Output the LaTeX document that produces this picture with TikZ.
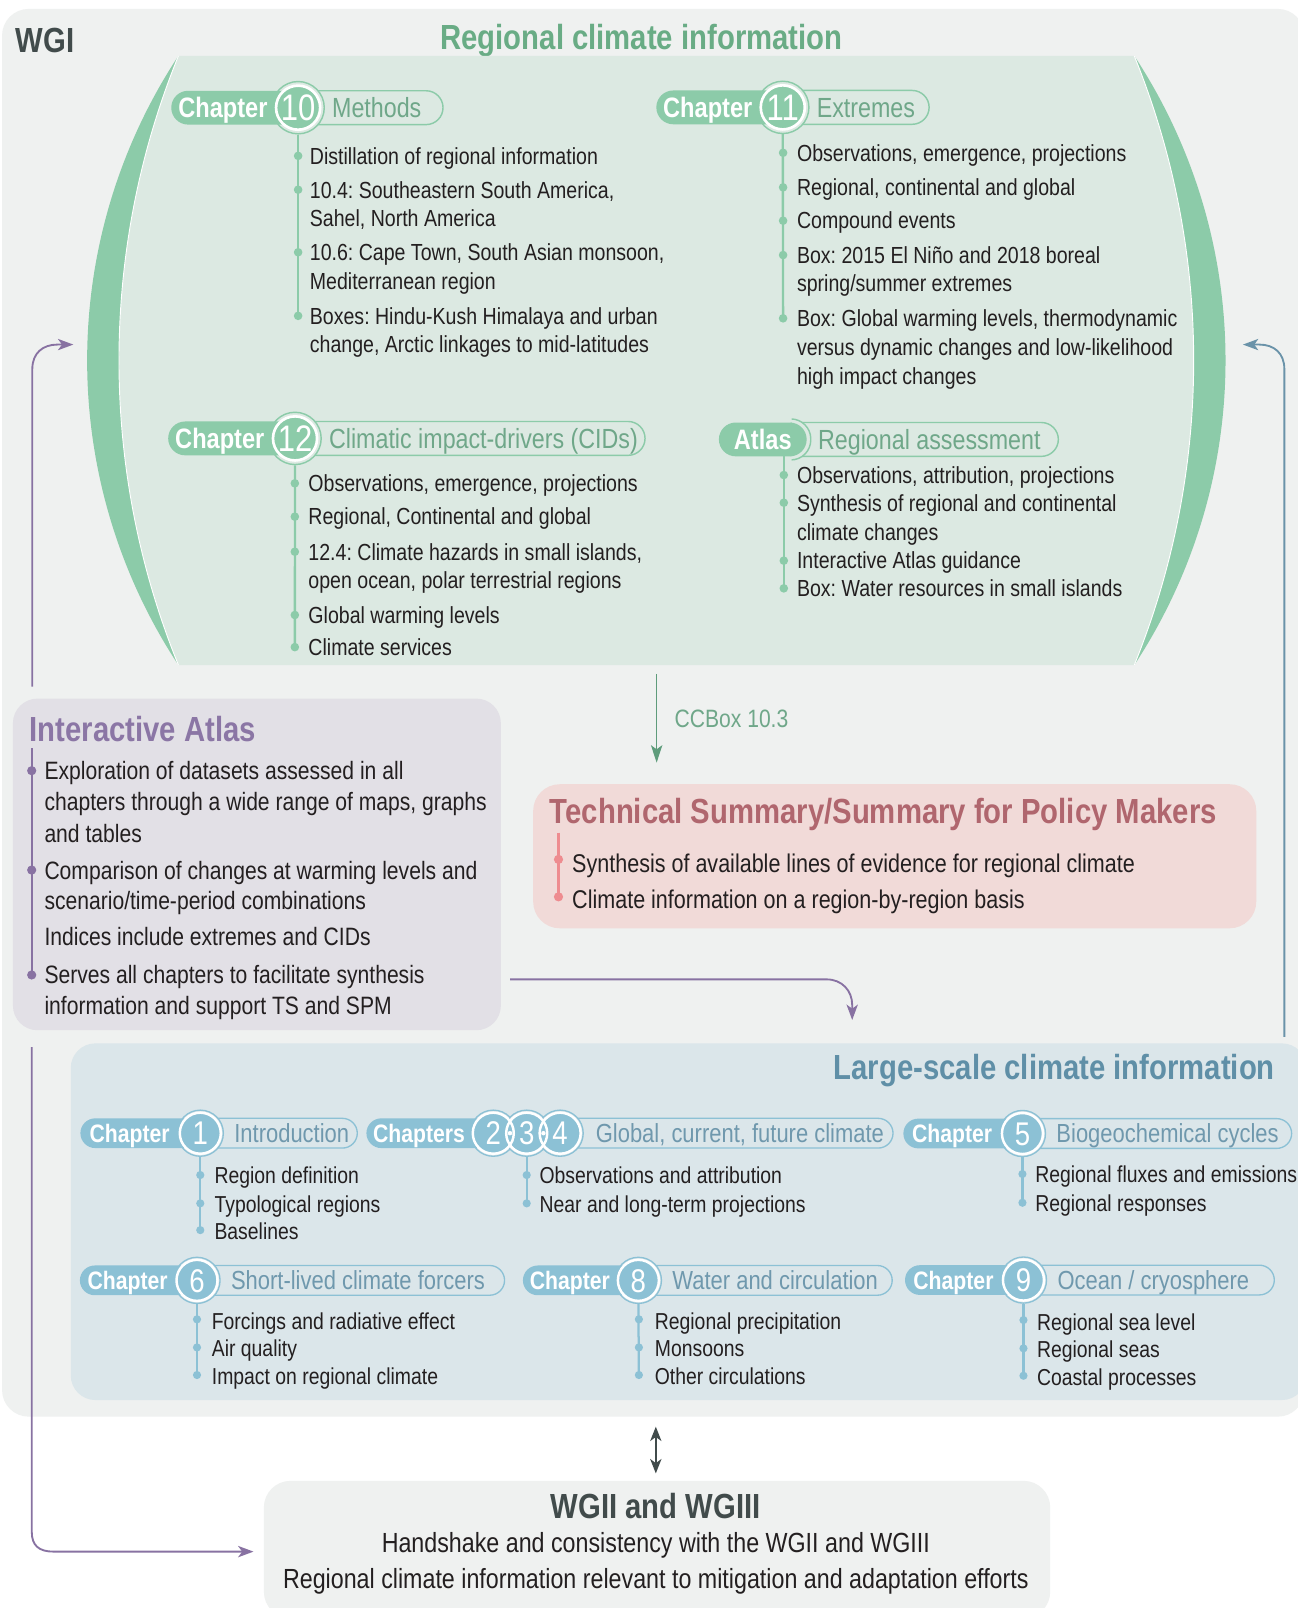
\documentclass[tikz,border=0pt]{standalone}
\usepackage{fontspec}
\setmainfont[FakeStretch=0.84]{Liberation Sans}
\usetikzlibrary{arrows.meta}
\frenchspacing
\definecolor{bgGray}{HTML}{EFF1F0}
\definecolor{cLens}{HTML}{DCE9E2}
\definecolor{cGreen}{HTML}{8CCBA9}
\definecolor{cGreenTitle}{HTML}{69AC85}
\definecolor{cGreenLab}{HTML}{6FA789}
\definecolor{cGreenArr}{HTML}{5E9C7B}
\definecolor{cAtlasBox}{HTML}{E2E0E6}
\definecolor{cPurple}{HTML}{8872A2}
\definecolor{cPurpleTitle}{HTML}{8B76A5}
\definecolor{cTSBox}{HTML}{F1DAD8}
\definecolor{cTSTitle}{HTML}{B0666E}
\definecolor{cPink}{HTML}{EE8C90}
\definecolor{cBluePanel}{HTML}{DBE6EA}
\definecolor{cBlue}{HTML}{8CC1D5}
\definecolor{cBlueTitle}{HTML}{5F8FA7}
\definecolor{cBlueLab}{HTML}{6F98AD}
\definecolor{cBlueArr}{HTML}{6A93A9}
\definecolor{cDark}{HTML}{414B4B}
\definecolor{cTxt}{HTML}{231F20}
\tikzset{
  itemG/.style={anchor=base west, yshift=-8.1pt, inner sep=0pt, text=cTxt, font=\fontsize{22.7}{26}\selectfont},
  itemA/.style={anchor=base west, yshift=-8.8pt, inner sep=0pt, text=cTxt, font=\fontsize{24.5}{28}\selectfont},
  itemT/.style={anchor=base west, yshift=-9pt, inner sep=0pt, text=cTxt, font=\fontsize{25}{28}\selectfont},
  itemB/.style={anchor=base west, yshift=-8.05pt, inner sep=0pt, text=cTxt, font=\fontsize{22.5}{26}\selectfont},
  itemW/.style={anchor=base, yshift=-9.7pt, inner sep=0pt, text=cTxt, font=\fontsize{27}{30}\selectfont},
  titleS/.style={inner sep=0pt, font=\bfseries\fontsize{34}{38}\selectfont},
  dotG/.style={circle, fill=cGreen, inner sep=0pt, minimum size=8.4pt},
  dotB/.style={circle, fill=cBlue, inner sep=0pt, minimum size=8pt},
  dotP/.style={circle, fill=cPurple, inner sep=0pt, minimum size=9pt},
  dotR/.style={circle, fill=cPink, inner sep=0pt, minimum size=9pt},
  listG/.style={draw=cGreen, line width=2.3pt},
  listB/.style={draw=cBlue, line width=2.2pt},
  listP/.style={draw=cPurple, line width=2.2pt},
  listR/.style={draw=cPink, line width=2.2pt},
  outG/.style={draw=cGreen, line width=1.4pt, rounded corners=16.5pt},
  fillG/.style={fill=cGreen, rounded corners=16.5pt},
  haloG/.style={circle, minimum size=51pt, inner sep=0pt, fill=cLens, draw=cGreen, line width=1.4pt},
  circG/.style={circle, minimum size=43pt, inner sep=0pt, fill=cGreen, draw=white, line width=2.6pt},
  wordG/.style={anchor=base, yshift=-9.8pt, inner sep=0pt, text=white, font=\bfseries\fontsize{27.4}{30}\selectfont},
  numG/.style={anchor=base, yshift=-12.9pt, inner sep=0pt, text=white, font=\fontsize{36}{40}\selectfont},
  labG/.style={anchor=base west, yshift=-9.7pt, inner sep=0pt, text=cGreenLab, font=\fontsize{27}{30}\selectfont},
  outB/.style={draw=cBlue, line width=1.3pt, rounded corners=14.5pt},
  fillB/.style={fill=cBlue, rounded corners=14.5pt},
  haloB/.style={circle, minimum size=45pt, inner sep=0pt, fill=cBluePanel, draw=cBlue, line width=1.3pt},
  circB/.style={circle, minimum size=40pt, inner sep=0pt, fill=cBlue, draw=white, line width=2.4pt},
  ringB/.style={circle, minimum size=40pt, inner sep=0pt, draw=white, line width=2.4pt},
  wordB/.style={anchor=base, yshift=-8.8pt, inner sep=0pt, text=white, font=\bfseries\fontsize{24.6}{28}\selectfont},
  numB/.style={anchor=base, yshift=-11.5pt, inner sep=0pt, text=white, font=\fontsize{32}{36}\selectfont},
  labB/.style={anchor=base west, yshift=-9.1pt, inner sep=0pt, text=cBlueLab, font=\fontsize{25.5}{28}\selectfont},
  arrP/.style={draw=cPurple, line width=1.8pt, -{Stealth[length=15pt,width=11pt,inset=4pt]}},
  arrBl/.style={draw=cBlueArr, line width=1.8pt, -{Stealth[length=15pt,width=11pt,inset=4pt]}},
  arrG/.style={draw=cGreenArr, line width=1.6pt, -{Stealth[length=17pt,width=11pt,inset=4pt]}},
  arrD/.style={draw=cDark, line width=1.6pt, {Stealth[length=14pt,width=11pt,inset=4pt]}-{Stealth[length=14pt,width=11pt,inset=4pt]}},
}
\newcommand\chapG[7]{%
  \draw[outG] ({#4-10},{#3-16.5}) rectangle (#5,{#3+16.5});
  \node[haloG] (h#1) at (#4,#3) {};
  \fill[fillG] (#2,{#3-16.5}) rectangle ({#4+10},{#3+16.5});
  \node[circG] (c#1) at (#4,#3) {};
  \node[wordG] (w#1) at ({(#2+#4-23)/2},#3) {Chapter};
  \node[numG] (n#1) at (#4,#3) {#6};
  \node[labG] (l#1) at ({#4+33},#3) {#7};}
\newcommand\chapB[7]{%
  \draw[outB] ({#4-10},{#3-14.5}) rectangle (#5,{#3+14.5});
  \node[haloB] (h#1) at (#4,#3) {};
  \fill[fillB] (#2,{#3-14.5}) rectangle ({#4+8},{#3+14.5});
  \node[circB] (c#1) at (#4,#3) {};
  \node[wordB] (w#1) at ({(#2+#4-21)/2},#3) {Chapter};
  \node[numB] (n#1) at (#4,#3) {#6};
  \node[labB] (l#1) at ({#4+33},#3) {#7};}
\begin{document}
\begin{tikzpicture}[x=1pt,y=-1pt]
\useasboundingbox (0,0) rectangle (1264.8,1568);
\fill[white] (0,0) rectangle (1264.8,1568);
% WGI panel
\fill[bgGray, rounded corners=26pt] (2,8.7) rectangle (1272,1381.4);
\node[titleS, anchor=base west, text=cDark] (wgi) at (15,51.5) {WGI};
\node[titleS, anchor=base, text=cGreenTitle] (regtitle) at (625.5,48.5) {Regional climate information};
% lens
\fill[cLens] (174,54.4) -- (1106,54.4) .. controls (1183.3,244.4) and (1183.3,458.6) .. (1106,648.6) -- (174,648.6) .. controls (96.7,458.6) and (96.7,244.4) .. (174,54.4) -- cycle;
\fill[cGreen] (174,54.4) .. controls (55.3,234.8) and (55.3,468.2) .. (174,648.6) .. controls (96.7,458.6) and (96.7,244.4) .. (174,54.4) -- cycle;
\fill[cGreen] (1106,54.4) .. controls (1224.7,234.8) and (1224.7,468.2) .. (1106,648.6) .. controls (1183.3,458.6) and (1183.3,244.4) .. (1106,54.4) -- cycle;
\draw[white, line width=0.9pt] (174,54.4) .. controls (96.7,244.4) and (96.7,458.6) .. (174,648.6);
\draw[white, line width=0.9pt] (1106,54.4) .. controls (1183.3,244.4) and (1183.3,458.6) .. (1106,648.6);
% Chapter 10
\chapG{10}{167}{105}{290.7}{432}{10}{Methods}
\node[dotG] (d10a) at (290.7,152) {};
\node[dotG] (d10b) at (290.7,185) {};
\node[dotG] (d10c) at (290.7,246) {};
\node[dotG] (d10d) at (290.7,308) {};
\draw[listG] (h10.south) -- (d10d.center);
\node[itemG] (t10a) at (302,152) {Distillation of regional information};
\node[itemG] (t10b) at (302,185) {10.4: Southeastern South America,};
\node[itemG] (t10c) at (302,213) {Sahel, North America};
\node[itemG] (t10d) at (302,246) {10.6: Cape Town, South Asian monsoon,};
\node[itemG] (t10e) at (302,274) {Mediterranean region};
\node[itemG] (t10f) at (302,308) {Boxes: Hindu-Kush Himalaya and urban};
\node[itemG] (t10g) at (302,336) {change, Arctic linkages to mid-latitudes};
% Chapter 11
\chapG{11}{640}{104.7}{763.3}{906}{11}{Extremes}
\node[dotG] (d11a) at (763.6,149) {};
\node[dotG] (d11b) at (763.6,182.7) {};
\node[dotG] (d11c) at (763.6,215.2) {};
\node[dotG] (d11d) at (763.6,248.7) {};
\node[dotG] (d11e) at (763.6,310.4) {};
\draw[listG] (h11.south) -- (d11e.center);
\node[itemG] (t11a) at (777,149) {Observations, emergence, projections};
\node[itemG] (t11b) at (777,182.7) {Regional, continental and global};
\node[itemG] (t11c) at (777,215.2) {Compound events};
\node[itemG] (t11d) at (777,248.7) {Box: 2015 El Niño and 2018 boreal};
\node[itemG] (t11e) at (777,276.3) {spring/summer extremes};
\node[itemG] (t11f) at (777,310.4) {Box: Global warming levels, thermodynamic};
\node[itemG] (t11g) at (777,338.7) {versus dynamic changes and low-likelihood};
\node[itemG] (t11h) at (777,366.7) {high impact changes};
% Chapter 12
\chapG{12}{164}{427.5}{287.7}{629}{12}{Climatic impact-drivers (CIDs)}
\node[dotG] (d12a) at (287.5,471.3) {};
\node[dotG] (d12b) at (287.5,503.8) {};
\node[dotG] (d12c) at (287.5,538) {};
\node[dotG] (d12d) at (287.5,599.7) {};
\node[dotG] (d12e) at (287.5,631) {};
\draw[listG] (h12.south) -- (d12e.center);
\node[itemG] (t12a) at (300.6,471.3) {Observations, emergence, projections};
\node[itemG] (t12b) at (300.6,503.8) {Regional, Continental and global};
\node[itemG] (t12c) at (300.6,538) {12.4: Climate hazards in small islands,};
\node[itemG] (t12d) at (300.6,565.6) {open ocean, polar terrestrial regions};
\node[itemG] (t12e) at (300.6,599.7) {Global warming levels};
\node[itemG] (t12f) at (300.6,631) {Climate services};
% Atlas
\draw[outG] (760,412) rectangle (1032,445);
\begin{scope}
\clip (772,400) rectangle (800,460);
\draw[fill=cLens, draw=cGreen, line width=1.4pt, rounded corners=19.5pt] (697,408.5) rectangle (790.6,448.5);
\end{scope}
\fill[fillG] (701,412) rectangle (786.6,445);
\node[wordG] (watl) at (743.8,428.5) {Atlas};
\node[labG] (latl) at (797.6,428.5) {Regional assessment};
\coordinate (atlbot) at (764.3,445);
\node[dotG] (dAa) at (764.3,463.2) {};
\node[dotG] (dAb) at (764.3,490.2) {};
\node[dotG] (dAc) at (764.3,546.7) {};
\node[dotG] (dAd) at (764.3,573.7) {};
\draw[listG] (atlbot) -- (dAd.center);
\node[itemG] (tAa) at (777,463.2) {Observations, attribution, projections};
\node[itemG] (tAb) at (777,490.2) {Synthesis of regional and continental};
\node[itemG] (tAc) at (777,518.5) {climate changes};
\node[itemG] (tAd) at (777,546.7) {Interactive Atlas guidance};
\node[itemG] (tAe) at (777,573.7) {Box: Water resources in small islands};
% CCBox arrow
\coordinate (ccA) at (640.3,657);
\coordinate (ccB) at (640.3,743.7);
\draw[arrG] (ccA) -- (ccB);
\node[anchor=base west, yshift=-8.8pt, inner sep=0pt, text=cGreenLab, font=\fontsize{24.5}{28}\selectfont] (cclab) at (657.6,701) {CCBox 10.3};
% Interactive Atlas box
\node[fill=cAtlasBox, rounded corners=24pt, minimum width=475.8pt, minimum height=323.4pt, anchor=north west, inner sep=0pt] (iabox) at (12.4,681) {};
\node[titleS, anchor=base west, text=cPurpleTitle] (iatitle) at (28.6,723.5) {Interactive Atlas};
\coordinate (iatop) at (30.9,729.7);
\node[dotP] (dia) at (30.9,751.5) {};
\node[dotP] (dib) at (30.9,848.4) {};
\node[dotP] (dic) at (30.9,950.7) {};
\draw[listP] (iatop) -- (dic.center);
\node[itemA] (ia1) at (43.2,751) {Exploration of datasets assessed in all};
\node[itemA] (ia2) at (43.2,781.7) {chapters through a wide range of maps, graphs};
\node[itemA] (ia3) at (43.2,812.6) {and tables};
\node[itemA] (ia4) at (43.2,848.4) {Comparison of changes at warming levels and};
\node[itemA] (ia5) at (43.2,878.3) {scenario/time-period combinations};
\node[itemA] (ia6) at (43.2,913.4) {Indices include extremes and CIDs};
\node[itemA] (ia7) at (43.2,950.7) {Serves all chapters to facilitate synthesis};
\node[itemA] (ia8) at (43.2,980) {information and support TS and SPM};
% TS/SPM box
\node[fill=cTSBox, rounded corners=26pt, minimum width=705.1pt, minimum height=140.5pt, anchor=north west, inner sep=0pt] (tsbox) at (519.7,764.5) {};
\node[titleS, anchor=base west, text=cTSTitle] (tstitle) at (536,802.7) {Technical Summary/Summary for Policy Makers};
\coordinate (tstop) at (544.6,812);
\node[dotR] (dta) at (544.6,838) {};
\node[dotR] (dtb) at (544.6,874.5) {};
\draw[listR] (tstop) -- (dtb.center);
\node[itemT] (ts1) at (557.8,841.6) {Synthesis of available lines of evidence for regional climate};
\node[itemT] (ts2) at (557.8,876.7) {Climate information on a region-by-region basis};
% Large-scale panel
\fill[cBluePanel, rounded corners=24pt] (69,1017.4) rectangle (1274,1365.2);
\node[titleS, anchor=base east, text=cBlueTitle] (lstitle) at (1243.3,1053) {Large-scale climate information};
% Chapter 1
\chapB{1}{78.4}{1105}{195.3}{348.4}{1}{Introduction}
\node[dotB] (d1a) at (195.3,1145.8) {};
\node[dotB] (d1b) at (195.3,1173.4) {};
\node[dotB] (d1c) at (195.3,1199.5) {};
\draw[listB] (h1.south) -- (d1c.center);
\node[itemB] (t1a) at (209,1146) {Region definition};
\node[itemB] (t1b) at (209,1174) {Typological regions};
\node[itemB] (t1c) at (209,1201) {Baselines};
% Chapters 2-3-4
\draw[outB] (536,1090.5) rectangle (870.8,1119.5);
\node[haloB] (h2) at (481,1105) {};
\node[haloB] (h3) at (513.6,1105) {};
\node[haloB] (h4) at (546.2,1105) {};
\fill[fillB] (357.3,1090.5) rectangle (489,1119.5);
\fill[cBlue] (481,1105) circle[radius=20pt];
\fill[cBlue] (513.6,1105) circle[radius=20pt];
\fill[cBlue] (546.2,1105) circle[radius=20pt];
\node[ringB] (c2) at (481,1105) {};
\node[ringB] (c3) at (513.6,1105) {};
\node[ringB] (c4) at (546.2,1105) {};
\node[wordB] (w234) at (408.6,1105) {Chapters};
\node[numB] (n2) at (481,1105) {2};
\node[numB] (n3) at (513.6,1105) {3};
\node[numB] (n4) at (546.2,1105) {4};
\fill[white] (497.3,1105) circle[radius=2.2pt];
\fill[white] (529.9,1105) circle[radius=2.2pt];
\node[labB] (l234) at (580.8,1105) {Global, current, future climate};
\node[dotB] (d3a) at (513.6,1145.8) {};
\node[dotB] (d3b) at (513.6,1173.4) {};
\draw[listB] (h3.south) -- (d3b.center);
\node[itemB] (t3a) at (526,1146) {Observations and attribution};
\node[itemB] (t3b) at (526,1174) {Near and long-term projections};
% Chapter 5
\chapB{5}{880.9}{1105.3}{997}{1259.5}{5}{Biogeochemical cycles}
\node[dotB] (d5a) at (997,1144.8) {};
\node[dotB] (d5b) at (997,1172.8) {};
\draw[listB] (h5.south) -- (d5b.center);
\node[itemB] (t5a) at (1009.3,1145) {Regional fluxes and emissions};
\node[itemB] (t5b) at (1009.3,1173) {Regional responses};
% Chapter 6
\chapB{6}{77.9}{1248.5}{192.1}{492}{6}{Short-lived climate forcers}
\node[dotB] (d6a) at (192.1,1286.5) {};
\node[dotB] (d6b) at (192.1,1313.9) {};
\node[dotB] (d6c) at (192.1,1340.8) {};
\draw[listB] (h6.south) -- (d6c.center);
\node[itemB] (t6a) at (206.4,1288) {Forcings and radiative effect};
\node[itemB] (t6b) at (206.4,1315) {Air quality};
\node[itemB] (t6c) at (206.4,1342) {Impact on regional climate};
% Chapter 8
\chapB{8}{509.9}{1248.5}{622.5}{870}{8}{Water and circulation}
\node[dotB] (d8a) at (623,1286.5) {};
\node[dotB] (d8b) at (623,1313.9) {};
\node[dotB] (d8c) at (623,1340.8) {};
\draw[listB] (h8.south) -- (d8c.center);
\node[itemB] (t8a) at (638.4,1288) {Regional precipitation};
\node[itemB] (t8b) at (638.4,1315) {Monsoons};
\node[itemB] (t8c) at (638.4,1342) {Other circulations};
% Chapter 9
\chapB{9}{882.5}{1248.2}{998}{1242.6}{9}{Ocean / cryosphere}
\node[dotB] (d9a) at (998,1287.2) {};
\node[dotB] (d9b) at (998,1314.8) {};
\node[dotB] (d9c) at (998,1341.5) {};
\draw[listB] (h9.south) -- (d9c.center);
\node[itemB] (t9a) at (1011,1289) {Regional sea level};
\node[itemB] (t9b) at (1011,1316) {Regional seas};
\node[itemB] (t9c) at (1011,1343) {Coastal processes};
% WGII box
\node[fill=bgGray, rounded corners=26pt, minimum width=766.8pt, minimum height=134pt, anchor=north west, inner sep=0pt] (wgbox) at (257.1,1443.8) {};
\node[titleS, anchor=base, text=cDark] (wgtitle) at (639.5,1481) {WGII and WGIII};
\node[itemW] (wg1) at (639.5,1504.3) {Handshake and consistency with the WGII and WGIII};
\node[itemW] (wg2) at (639.5,1539) {Regional climate information relevant to mitigation and adaptation efforts};
% connectors
\coordinate (a1s) at (31.5,669.6);
\coordinate (a1e) at (71.5,336);
\draw[arrP] (a1s) -- (31.5,360) .. controls (31.5,344) and (42,336) .. (56,336) -- (a1e);
\coordinate (a2s) at (497.4,955);
\coordinate (a2e) at (831,994.6);
\draw[arrP] (a2s) -- (806,955) .. controls (821,955) and (831,966) .. (831,980) -- (a2e);
\coordinate (a3s) at (31,1021);
\coordinate (a3e) at (247.2,1513);
\draw[arrP] (a3s) -- (31,1494) .. controls (31,1507) and (38,1513) .. (52,1513) -- (a3e);
\coordinate (a4s) at (1252.4,1011);
\coordinate (a4e) at (1212,336);
\draw[arrBl] (a4s) -- (1252.4,360) .. controls (1252.4,344) and (1242,336) .. (1228,336) -- (a4e);
\coordinate (dbA) at (639.5,1391.2);
\coordinate (dbB) at (639.5,1436.7);
\draw[arrD] (dbA) -- (dbB);
\end{tikzpicture}
\end{document}
